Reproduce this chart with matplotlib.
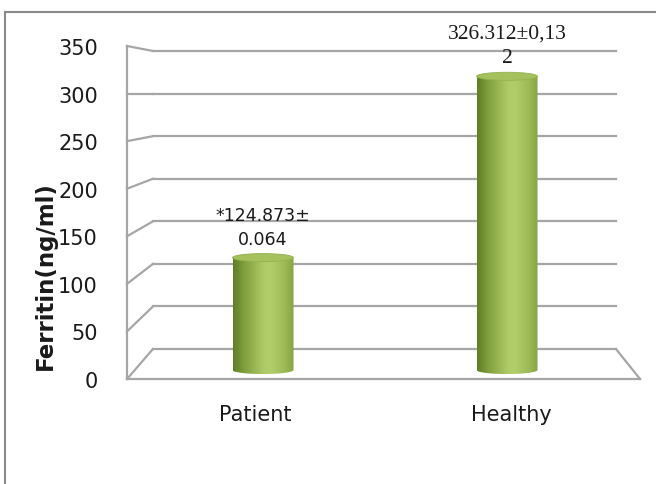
import matplotlib.pyplot as plt
import numpy as np
from matplotlib.colors import LinearSegmentedColormap
from matplotlib.lines import Line2D
from matplotlib.patches import Ellipse, PathPatch, Rectangle
from matplotlib.path import Path

groups = ['Patient', 'Healthy']
ferritin = [124.873, 326.312]
value_labels = ['*124.873±\n0.064', '326.312±0,13\n2']
y_ticks = [0, 50, 100, 150, 200, 250, 300, 350]

W, H = 656, 485
GRID = '#a6a6a6'

fig = plt.figure(figsize=(W / 100, H / 100), dpi=100)


def box(left, top, right, bottom):
    # pixel rectangle -> figure fraction [x, y, w, h]
    return [left / W, 1 - bottom / H, (right - left) / W, (bottom - top) / H]


# three planes of the fake 3-D plot: front edge, back wall and bar depth
ax_front = fig.add_axes(box(127, 47, 640, 380))
ax_back = fig.add_axes(box(153, 52, 616, 350))
mid_lo = -20
ax_mid = fig.add_axes(box(141, 56, 629, 371 - mid_lo * 0.9))

for ax in (ax_front, ax_back, ax_mid):
    ax.set_xlim(-0.5, 1.5)
    ax.patch.set_visible(False)
    for s in ax.spines.values():
        s.set_visible(False)
ax_front.set_ylim(0, 350)
ax_back.set_ylim(0, 350)
ax_mid.set_ylim(mid_lo, 350)
ax_back.set_zorder(0)
ax_front.set_zorder(1)
ax_mid.set_zorder(3)
ax_back.axis('off')
ax_mid.axis('off')

ax_front.set_yticks(y_ticks)
ax_front.set_xticks(range(len(groups)), groups)
ax_front.tick_params(length=0, labelsize=15, labelcolor='#1a1a1a')
ax_front.tick_params(axis='y', pad=21)
ax_front.tick_params(axis='x', pad=18)

# back wall gridlines
for t in y_ticks:
    ax_back.axhline(t, color=GRID, lw=1.6, clip_on=False)

to_fig = fig.transFigure.inverted()


def fig_pt(ax, x, y):
    return to_fig.transform(ax.transData.transform((x, y)))


def fig_line(p, q, **kw):
    fig.add_artist(Line2D([p[0], q[0]], [p[1], q[1]], color=GRID, lw=1.6, zorder=1, **kw))


# left side wall: depth lines and front vertical edge
for t in y_ticks:
    fig_line(fig_pt(ax_front, -0.5, t), fig_pt(ax_back, -0.5, t))
fig_line(fig_pt(ax_front, -0.5, 0), fig_pt(ax_front, -0.5, 350))

# floor front edge and right depth line
fig_line(fig_pt(ax_front, -0.5, 0), fig_pt(ax_front, 1.5, 0))
fig_line(fig_pt(ax_front, 1.5, 0), fig_pt(ax_back, 1.5, 0))

# cylinders
cyl_cmap = LinearSegmentedColormap.from_list('cyl', [
    (0.0, '#5f7d27'), (0.18, '#7f9e3c'), (0.5, '#adca66'),
    (0.62, '#b2ce6c'), (0.85, '#9cba55'), (1.0, '#86a543')])
grad = np.linspace(0, 1, 256).reshape(1, -1)
w = 0.25
eh = 9

for i, v in enumerate(ferritin):
    x0, x1 = i - w / 2, i + w / 2
    th = np.linspace(0, -np.pi, 60)
    verts = [(x0, v), (x1, v)] + [(i + w / 2 * np.cos(a), eh / 2 * np.sin(a)) for a in th] + [(x0, v)]
    codes = [Path.MOVETO] + [Path.LINETO] * (len(verts) - 2) + [Path.CLOSEPOLY]
    body = PathPatch(Path(verts, codes), facecolor='none', edgecolor='none')
    ax_mid.add_patch(body)
    im = ax_mid.imshow(grad, cmap=cyl_cmap, aspect='auto', extent=(x0, x1, -eh, v), zorder=2)
    im.set_clip_path(body)
    ax_mid.add_patch(Ellipse((i, v), w, eh, facecolor='#a4c15e', edgecolor='#93b24f', lw=0.6, zorder=3))

    if i == 0:
        ax_mid.annotate(value_labels[i], (i, v), xytext=(0, 10), textcoords='offset pixels',
                        ha='center', va='bottom', fontsize=12.5, linespacing=1.4, color='#1a1a1a')
    else:
        ax_mid.annotate(value_labels[i], (i, v), xytext=(0, 9), textcoords='offset pixels',
                        ha='center', va='bottom', fontsize=15.5, linespacing=1.4,
                        family='Liberation Serif', color='#1a1a1a')

fig.text(45 / W, 1 - 276 / H, 'Ferritin(ng/ml)', rotation=90, ha='center', va='center',
         fontsize=16.5, fontweight='bold', color='#1a1a1a')

# chart area border
fig.add_artist(Rectangle((5 / W, -0.1), 1.2, 1.1 - 13 / H, transform=fig.transFigure,
                         facecolor='none', edgecolor='#8a8a8a', lw=1.5, zorder=0))

fig.savefig('out.png', dpi=100)
